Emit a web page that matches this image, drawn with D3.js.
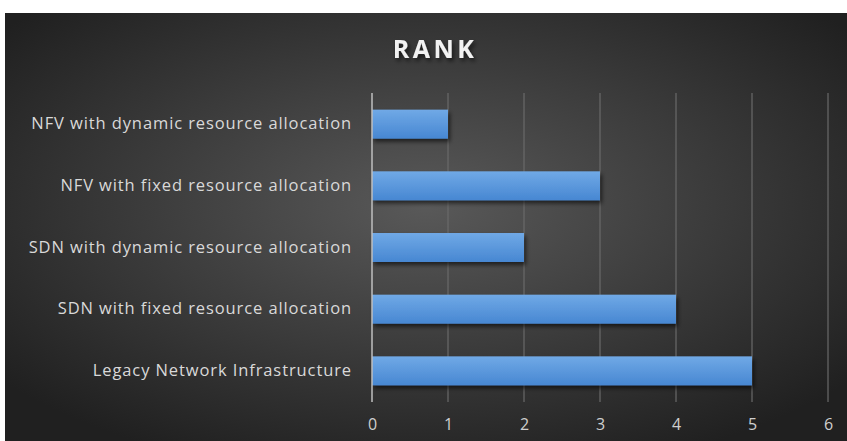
<!DOCTYPE html>
<html>
<head>
<meta charset="utf-8">
<script src="https://cdn.jsdelivr.net/npm/d3@7"></script>
<style>
  body { margin: 0; background: #fff; }
  svg { display: block; }
  .tick text { font-family: "Open Sans", "Noto Sans", sans-serif; }
</style>
</head>
<body>
<svg class="rank-frame"></svg>
<script>
const categories = [
  "NFV with dynamic resource allocation",
  "NFV with fixed resource allocation",
  "SDN with dynamic resource allocation",
  "SDN with fixed resource allocation",
  "Legacy Network Infrastructure"
];
const ranks = [1, 3, 2, 4, 5];
const xTicks = [0, 1, 2, 3, 4, 5, 6];

const width = 847, height = 441;
const margin = {top: 93, right: 19, bottom: 39, left: 372};

const svg = d3.select(".rank-frame")
  .attr("width", width)
  .attr("height", height);

const defs = svg.append("defs");

const bg = defs.append("radialGradient")
  .attr("id", "bg")
  .attr("cx", "50%").attr("cy", "45%").attr("r", "65%");
bg.append("stop").attr("offset", "0%").attr("stop-color", "#595959");
bg.append("stop").attr("offset", "100%").attr("stop-color", "#202020");

const barGrad = defs.append("linearGradient")
  .attr("id", "barGrad")
  .attr("x1", 0).attr("y1", 0).attr("x2", 0).attr("y2", 1);
barGrad.append("stop").attr("offset", "0%").attr("stop-color", "#70a9e6");
barGrad.append("stop").attr("offset", "100%").attr("stop-color", "#4787d2");

const shadow = defs.append("filter").attr("id", "shadow")
  .attr("x", "-5%").attr("y", "-20%").attr("width", "115%").attr("height", "160%");
shadow.append("feDropShadow")
  .attr("dx", 2).attr("dy", 3).attr("stdDeviation", 2)
  .attr("flood-color", "#000").attr("flood-opacity", 0.6);

svg.append("rect")
  .attr("x", 5).attr("y", 13)
  .attr("width", width - 5).attr("height", height - 13)
  .attr("fill", "url(#bg)");

svg.append("text")
  .attr("x", 435)
  .attr("y", 58)
  .attr("text-anchor", "middle")
  .attr("fill", "#f2f2f2")
  .style("font-family", "'Open Sans', sans-serif")
  .style("font-weight", "bold")
  .style("font-size", "25px")
  .style("letter-spacing", "3.5px")
  .style("filter", "url(#shadow)")
  .text("RANK");

const xScale = d3.scaleLinear()
  .domain([0, 6])
  .range([margin.left, width - margin.right]);

const yScale = d3.scaleBand()
  .domain(categories)
  .range([margin.top, height - margin.bottom])
  .paddingInner(0.53)
  .paddingOuter(0.27);

// gridlines
svg.append("g")
  .selectAll("line")
  .data(xTicks.slice(1))
  .enter().append("line")
  .attr("x1", d => xScale(d))
  .attr("x2", d => xScale(d))
  .attr("y1", margin.top)
  .attr("y2", height - margin.bottom)
  .attr("stroke", "#6a6a6a")
  .attr("stroke-width", 1.2);

// bars
svg.append("g")
  .selectAll("rect")
  .data(ranks)
  .enter().append("rect")
  .attr("x", xScale(0))
  .attr("y", (d, i) => yScale(categories[i]))
  .attr("width", d => xScale(d) - xScale(0))
  .attr("height", yScale.bandwidth())
  .attr("fill", "url(#barGrad)")
  .style("filter", "url(#shadow)");

// axis line at zero
svg.append("line")
  .attr("x1", xScale(0)).attr("x2", xScale(0))
  .attr("y1", margin.top).attr("y2", height - margin.bottom)
  .attr("stroke", "#bfbfbf")
  .attr("stroke-width", 1.5);

const xAxis = d3.axisBottom(xScale)
  .tickValues(xTicks)
  .tickFormat(d3.format("d"))
  .tickSize(0)
  .tickPadding(17);

svg.append("g")
  .attr("transform", "translate(0," + (height - margin.bottom) + ")")
  .call(xAxis)
  .call(g => g.select(".domain").remove())
  .selectAll("text")
  .attr("fill", "#cfcfcf")
  .style("font-size", "16px");

const yAxis = d3.axisLeft(yScale)
  .tickSize(0)
  .tickPadding(20);

svg.append("g")
  .attr("transform", "translate(" + margin.left + ",0)")
  .call(yAxis)
  .call(g => g.select(".domain").remove())
  .selectAll("text")
  .attr("fill", "#d9d9d9")
  .style("font-size", "16.5px")
  .style("letter-spacing", "0.9px");
</script>
</body>
</html>
